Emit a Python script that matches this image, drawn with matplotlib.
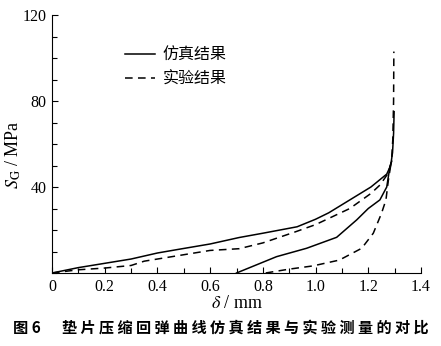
import matplotlib
matplotlib.use("Agg")
import matplotlib.pyplot as plt
from matplotlib.ticker import MultipleLocator

plt.rcParams['font.family'] = ['Liberation Serif', 'Noto Sans CJK SC']
plt.rcParams['mathtext.fontset'] = 'stix'

# Simulation (solid): loading and unloading branches
sim_load_x = [0, 0.1, 0.2, 0.3, 0.4, 0.48, 0.6, 0.71, 0.8, 0.93, 1.0, 1.05, 1.13, 1.21, 1.27, 1.285, 1.292, 1.296, 1.298]
sim_load_y = [0, 2.5, 4.5, 6.5, 9.3, 11, 13.5, 16.5, 18.5, 21.5, 25, 28, 34, 40, 46, 50, 56, 65, 75]
sim_unload_x = [1.289, 1.282, 1.27, 1.244, 1.2, 1.156, 1.08, 0.966, 0.852, 0.70]
sim_unload_y = [52, 49.4, 40, 34, 30, 24.7, 16.6, 11.5, 7.6, 0]

# Experiment (dashed): loading and unloading branches
exp_load_x = [0, 0.1, 0.2, 0.3, 0.35, 0.44, 0.5, 0.6, 0.71, 0.8, 0.92, 1.0, 1.13, 1.21, 1.245, 1.276, 1.288, 1.293, 1.296, 1.297]
exp_load_y = [0, 1.5, 2.3, 3.5, 5.5, 7.3, 8.5, 10.5, 11.3, 14, 19, 22.5, 30, 37, 41, 46.5, 52, 62, 80, 103]
exp_unload_x = [1.285, 1.276, 1.267, 1.25, 1.219, 1.175, 1.09, 0.99, 0.9, 0.81]
exp_unload_y = [50, 43, 34, 27.7, 18.5, 11.5, 6, 3.3, 1.8, 0]

labels = ['仿真结果', '实验结果']
xticks = [0, 0.2, 0.4, 0.6, 0.8, 1.0, 1.2, 1.4]
xticklabels = ['0', '0.2', '0.4', '0.6', '0.8', '1.0', '1.2', '1.4']
yticks = [40, 80, 120]

fig = plt.figure(figsize=(4.41, 3.46), dpi=100)
ax = fig.add_axes([52/441, 1-273/346, 369/441, 258/346])

lw = 1.1
ax.plot(sim_load_x, sim_load_y, color='black', lw=lw, label=labels[0])
ax.plot(sim_unload_x, sim_unload_y, color='black', lw=lw)
ax.plot(exp_load_x, exp_load_y, color='black', lw=lw, ls=(0, (5, 3.5)), label=labels[1])
ax.plot(exp_unload_x, exp_unload_y, color='black', lw=lw, ls=(0, (5, 3.5)))

ax.set_xlim(0, 1.4)
ax.set_ylim(0, 120)
ax.set_xticks(xticks)
ax.set_xticklabels(xticklabels)
ax.set_yticks(yticks)
ax.xaxis.set_minor_locator(MultipleLocator(0.1))
ax.yaxis.set_minor_locator(MultipleLocator(10))
ax.tick_params(which='both', direction='in', labelsize=11.5, width=0.8)
ax.tick_params(which='major', length=4, pad=4)
ax.tick_params(which='minor', length=3.5)
for s in ['top', 'right']:
    ax.spines[s].set_visible(False)
for s in ['left', 'bottom']:
    ax.spines[s].set_linewidth(0.8)

ax.set_xlabel(r'$\delta$ / mm', fontsize=13, labelpad=0)
ax.set_ylabel(r'$S_{\mathrm{G}}$ / MPa', fontsize=13, labelpad=1)
ax.yaxis.set_label_coords(-0.078, 0.46)

leg = ax.legend(loc='upper left', bbox_to_anchor=(0.176, 0.91), frameon=False,
                prop={'family': ['Noto Sans CJK SC'], 'size': 11.5},
                handlelength=1.9, handletextpad=0.45, labelspacing=0.45, borderpad=0)

fig.text(13/441, 1-328/346, '图 6', fontsize=11, fontweight='bold',
         family=['Noto Sans CJK SC'], va='center', ha='left')
fig.text(62/441, 1-328/346, '垫 片 压 缩 回 弹 曲 线 仿 真 结 果 与 实 验 测 量 的 对 比',
         fontsize=10.9, fontweight='bold', family=['Noto Sans CJK SC'], va='center', ha='left')

fig.savefig('out.png', dpi=100)
